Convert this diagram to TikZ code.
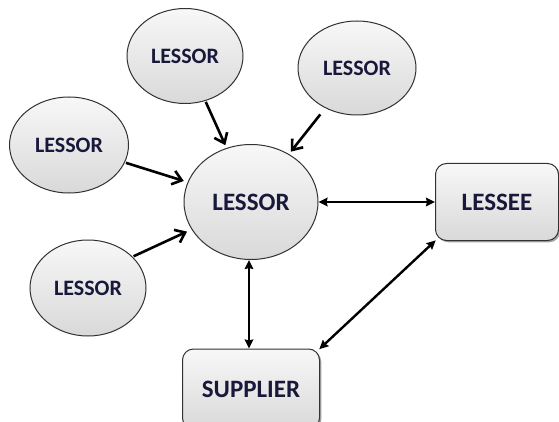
\documentclass[tikz,border=0pt]{standalone}
\usepackage{fontspec}
\setmainfont{Carlito}
\usetikzlibrary{shapes.geometric,arrows.meta,shadows}
\definecolor{txtnavy}{RGB}{24,24,58}
\definecolor{edgegray}{RGB}{50,50,50}
\tikzset{
  party/.style={ellipse, draw=edgegray, line width=1pt,
    top color=gray!6, bottom color=gray!30, inner sep=0pt,
    font=\bfseries\fontsize{22}{22}\selectfont, text=txtnavy},
  bigparty/.style={party, font=\bfseries\fontsize{25}{25}\selectfont},
  firm/.style={rectangle, rounded corners=11pt, draw=edgegray, line width=1pt,
    top color=gray!6, bottom color=gray!30, inner sep=0pt,
    drop shadow={shadow xshift=1.8pt, shadow yshift=-1.8pt, opacity=0.7},
    font=\bfseries\fontsize{25}{25}\selectfont, text=txtnavy},
  feed/.style={line width=2.6pt, -{Straight Barb[length=9pt,width=14pt,line width=2.6pt]}},
  link/.style={line width=2.4pt, {Stealth[length=9pt,width=8.5pt,inset=1pt]}-{Stealth[length=9pt,width=8.5pt,inset=1pt]}}
}
\begin{document}
\begin{tikzpicture}[x=1pt,y=-1pt]
  \useasboundingbox (0,0) rectangle (559,422);
  \clip (0,0) rectangle (559,422);
  \fill[white] (0,0) rectangle (559,422);

  % lessors around the main lessor
  \node[party, minimum width=116pt, minimum height=95pt] (ltop) at (185,56) {LESSOR};
  \node[party, minimum width=118pt, minimum height=94pt] (lright) at (357,68) {LESSOR};
  \node[party, minimum width=119pt, minimum height=96pt] (lleft) at (69,145) {LESSOR};
  \node[party, minimum width=116pt, minimum height=96pt] (lbottom) at (88,288) {LESSOR};

  % main lessor
  \node[bigparty, minimum width=134pt, minimum height=115pt] (main) at (251,202) {LESSOR};

  % lessee and supplier
  \node[firm, minimum width=123pt, minimum height=77pt] (lessee) at (497,202) {LESSEE};
  \node[firm, minimum width=137pt, minimum height=80pt] (supplier) at (251,389) {SUPPLIER};

  % feeding arrows
  \draw[feed, shorten <=1pt, shorten >=3pt] (ltop) -- (main);
  \draw[feed, shorten <=8pt, shorten >=3pt] (lright) -- (main);
  \draw[feed, shorten <=1pt, shorten >=4pt] (lleft) -- (main);
  \draw[feed, shorten <=1pt, shorten >=5pt] (lbottom.35) -- (main);

  % two-way links
  \draw[link] (main) -- (lessee);
  \draw[link] (main.south) ++(-2,0) coordinate (ms) (ms) -- (ms |- supplier.north);
  \draw[link, shorten <=-1pt, shorten >=-1pt] (lessee.south west) -- (supplier.north east);
\end{tikzpicture}
\end{document}
